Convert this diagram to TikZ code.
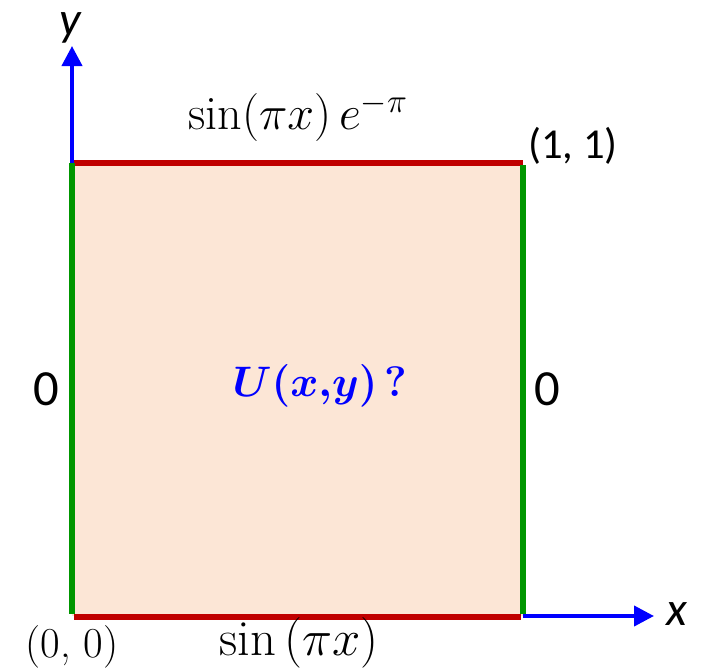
\documentclass[tikz,border=0pt]{standalone}
\usepackage{fix-cm}
\usepackage{fontspec}
\usepackage{amsmath}
\usetikzlibrary{arrows.meta}
\newfontfamily\labfont{Carlito}
\definecolor{bred}{RGB}{192,0,0}
\definecolor{bgreen}{RGB}{0,150,0}
\definecolor{bfill}{RGB}{252,230,214}
\definecolor{bblue}{RGB}{0,0,255}
\begin{document}
\begin{tikzpicture}[x=0.75pt,y=-0.75pt,
  sanslab/.style={font=\labfont\fontsize{32}{38}\selectfont},
  zerolab/.style={font=\labfont\fontsize{38}{44}\selectfont},
  seriflab/.style={font=\fontsize{32}{38}\selectfont},
  axislab/.style={font=\labfont\itshape\fontsize{36}{42}\selectfont},
  redside/.style={draw=bred,line width=4.5pt},
  greenside/.style={draw=bgreen,line width=4.5pt},
  axisline/.style={draw=bblue,line width=3pt,-{Triangle[length=15pt,width=15pt]}}]
\useasboundingbox (0,0) rectangle (708,671);
\coordinate (O) at (72,616);
\coordinate (A) at (523,616);
\coordinate (B) at (523,163);
\coordinate (C) at (72,163);
\coordinate (Ytip) at (72,46);
\coordinate (Xtip) at (654,616);
\fill[bfill] (O) rectangle (B);
\draw[axisline] (C) -- (Ytip);
\draw[axisline] (A) -- (Xtip);
\draw[redside] (74,163) -- (B);
\draw[redside] (74,617) -- (521,617);
\draw[greenside] (72,163) -- (72,614);
\draw[greenside] (523,165) -- (523,614);
\node[axislab] (ylab) at (70,28) {y};
\node[axislab] (xlab) at (677,614) {x};
\node[sanslab] (p11) at (573,146) {(1, 1)};
\node[zerolab] (lz) at (46,389) {0};
\node[zerolab] (rz) at (547,389) {0};
\node[seriflab] (p00) at (72,647) {(0, 0)};
\node[font=\fontsize{38}{44}\selectfont] (bot) at (299,643) {$\sin\,(\pi x)$};
\node[font=\fontsize{36}{42}\selectfont] (top) at (298,117) {$\sin(\pi x)\,e^{-\pi}$};
\node[font=\fontsize{32}{38}\selectfont\bfseries\boldmath, text=bblue] (U) at (320,386) {$U(x{,}y)$\,?};
\end{tikzpicture}
\end{document}
